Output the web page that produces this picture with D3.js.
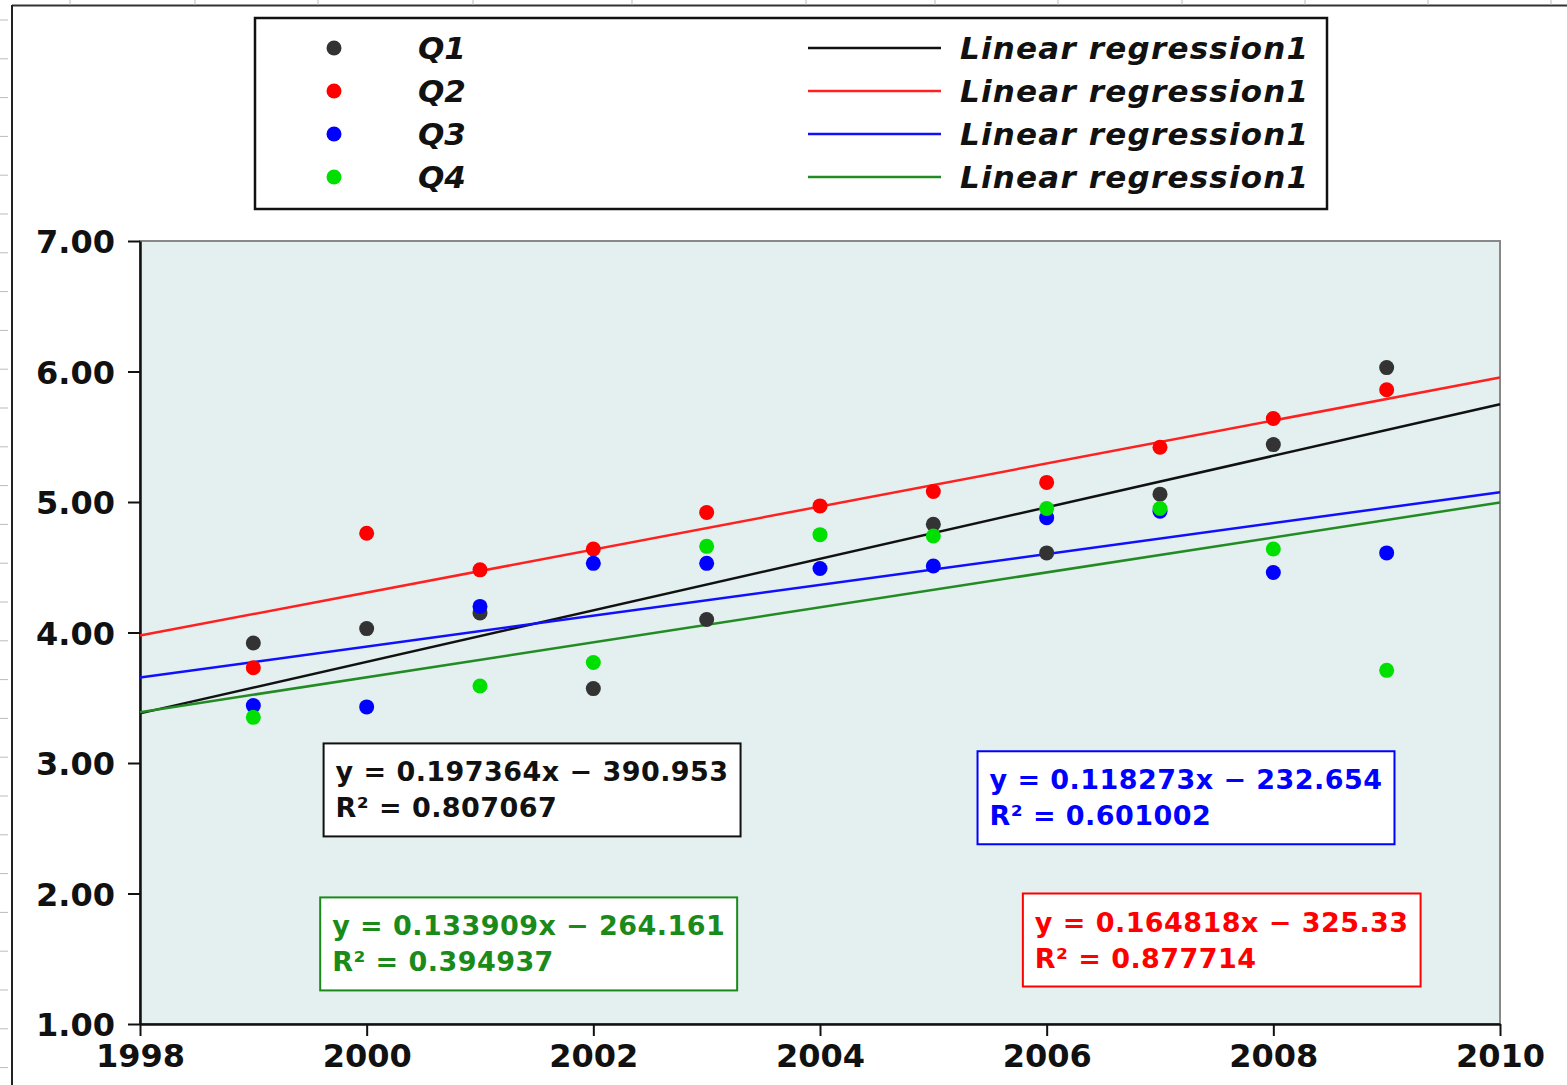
<!DOCTYPE html>
<html>
<head>
<meta charset="utf-8">
<script src="https://d3js.org/d3.v7.min.js"></script>
<style>
  body { margin: 0; background: #fff; }
  text { font-family: "DejaVu Sans", sans-serif; font-weight: bold; }
</style>
</head>
<body>
<div id="chart"></div>
<script>
// Data (null = no point drawn)
const years = [1999, 2000, 2001, 2002, 2003, 2004, 2005, 2006, 2007, 2008, 2009];
const q1 = [3.92, 4.03, 4.15, 3.57, 4.10, null, 4.83, 4.61, 5.06, 5.44, 6.03];
const q2 = [3.73, 4.76, 4.48, 4.64, 4.92, 4.97, 5.08, 5.15, 5.42, 5.64, 5.86];
const q3 = [3.44, 3.43, 4.20, 4.53, 4.53, 4.49, 4.51, 4.88, 4.93, 4.46, 4.61];
const q4 = [3.35, null, 3.59, 3.77, 4.66, 4.75, 4.74, 4.95, 4.95, 4.64, 3.71];

const seriesNames = ["Q1", "Q2", "Q3", "Q4"];
const slopes = [0.197364, 0.164818, 0.118273, 0.133909];
const intercepts = [-390.953, -325.33, -232.654, -264.161];
const r2 = ["0.807067", "0.877714", "0.601002", "0.394937"];

const xTicks = [1998, 2000, 2002, 2004, 2006, 2008, 2010];
const yTicks = [1, 2, 3, 4, 5, 6, 7];

// equation box anchors (top-left corner, in data units)
const boxX = [1999.62, 2005.79, 2005.39, 1999.59];
const boxY = [3.15, 2.00, 3.09, 1.97];

const dotColors = ["#333333", "#ff0000", "#0000ff", "#00e000"];
const lineColors = ["#111111", "#ff2020", "#1010ff", "#238b23"];
const textColors = ["#111111", "#ff0000", "#0000ff", "#1a8a1a"];

const width = 1567, height = 1085;
const margin = {left: 140, right: 67, top: 241, bottom: 61};

const svg = d3.select("#chart").append("svg")
  .attr("width", width)
  .attr("height", height);

// outer window frame of the screenshot
svg.append("line").attr("x1", 12).attr("x2", width).attr("y1", 5.5).attr("y2", 5.5)
  .attr("stroke", "#333").attr("stroke-width", 2);
svg.append("line").attr("x1", 12).attr("x2", 12).attr("y1", 5).attr("y2", height)
  .attr("stroke", "#222").attr("stroke-width", 2);
d3.range(20, height, 38.8).forEach(y => {
  svg.append("line").attr("x1", 0).attr("x2", 8).attr("y1", y).attr("y2", y)
    .attr("stroke", "#bbb").attr("stroke-width", 1);
});
[70, 195, 318, 473, 632, 806, 935, 1058, 1182, 1305, 1428, 1551].forEach(x => {
  svg.append("line").attr("x1", x).attr("x2", x).attr("y1", 0).attr("y2", 5)
    .attr("stroke", "#bbb").attr("stroke-width", 1);
});

const x = d3.scaleLinear().domain([1998, 2010]).range([margin.left, width - margin.right]);
const y = d3.scaleLinear().domain([1, 7]).range([height - margin.bottom, margin.top]);

// plot background
svg.append("rect")
  .attr("x", x(1998)).attr("y", y(7))
  .attr("width", x(2010) - x(1998)).attr("height", y(1) - y(7))
  .attr("fill", "#e3f0ef")
  .attr("stroke", "#888").attr("stroke-width", 2);

// axes
const xAxis = svg.append("g")
  .attr("transform", `translate(0,${y(1)})`)
  .call(d3.axisBottom(x).tickValues(xTicks).tickFormat(d3.format("d")).tickSize(12).tickSizeOuter(0));
const yAxis = svg.append("g")
  .attr("transform", `translate(${x(1998)},0)`)
  .call(d3.axisLeft(y).tickValues(yTicks).tickFormat(d3.format(".2f")).tickSize(12).tickSizeOuter(0));

[xAxis, yAxis].forEach(g => {
  g.select(".domain").attr("stroke", "#111").attr("stroke-width", 2.5);
  g.selectAll(".tick line").attr("stroke", "#111").attr("stroke-width", 2);
  g.selectAll(".tick text").attr("fill", "#111")
    .style("font-size", "32px").style("font-family", "DejaVu Sans").style("font-weight", "bold");
});
xAxis.selectAll(".tick text").attr("dy", "0.9em").attr("y", 14);
yAxis.selectAll(".tick text").attr("x", -25).attr("dy", "0.36em");

// regression lines
slopes.forEach((m, i) => {
  svg.append("line")
    .attr("x1", x(1998)).attr("y1", y(m * 1998 + intercepts[i]))
    .attr("x2", x(2010)).attr("y2", y(m * 2010 + intercepts[i]))
    .attr("stroke", lineColors[i])
    .attr("stroke-width", 2.5);
});

// points
[q1, q2, q3, q4].forEach((vals, i) => {
  svg.append("g").selectAll("circle")
    .data(years.map((yr, j) => ({yr, v: vals[j]})).filter(d => d.v != null))
    .enter().append("circle")
    .attr("cx", d => x(d.yr))
    .attr("cy", d => y(d.v))
    .attr("r", 7.5)
    .attr("fill", dotColors[i]);
});

// equation boxes
const fmtEq = i => `y = ${slopes[i]}x \u2212 ${Math.abs(intercepts[i])}`;
slopes.forEach((m, i) => {
  const g = svg.append("g").attr("transform", `translate(${x(boxX[i])},${y(boxY[i])})`);
  const rect = g.append("rect")
    .attr("fill", "white").attr("stroke", textColors[i]).attr("stroke-width", 2);
  const t1 = g.append("text").attr("x", 12).attr("y", 38)
    .attr("fill", textColors[i]).style("font-size", "27px").style("letter-spacing", "0.45px")
    .text(fmtEq(i));
  g.append("text").attr("x", 12).attr("y", 74)
    .attr("fill", textColors[i]).style("font-size", "27px").style("letter-spacing", "0.45px")
    .text(`R\u00b2 = ${r2[i]}`);
  const w = t1.node().getComputedTextLength();
  rect.attr("width", w + 24).attr("height", 93);
});

// legend
const legend = svg.append("g").attr("transform", "translate(255,18)");
legend.append("rect")
  .attr("width", 1072).attr("height", 191)
  .attr("fill", "white").attr("stroke", "#111").attr("stroke-width", 2.5);
const rows = legend.selectAll("g.row")
  .data(seriesNames)
  .enter().append("g").attr("class", "row")
  .attr("transform", (d, i) => `translate(0,${30 + i * 43})`);
rows.append("circle").attr("cx", 79).attr("cy", 0).attr("r", 7.5)
  .attr("fill", (d, i) => dotColors[i]);
rows.append("text").attr("x", 163).attr("y", 11)
  .style("font-size", "31px").style("font-style", "italic").attr("fill", "#111")
  .text(d => d);
rows.append("line").attr("x1", 553).attr("x2", 686).attr("y1", 0).attr("y2", 0)
  .attr("stroke", (d, i) => lineColors[i]).attr("stroke-width", 2.5);
rows.append("text").attr("x", 705).attr("y", 11)
  .style("font-size", "31px").style("font-style", "italic").style("letter-spacing", "1.2px")
  .attr("fill", "#111")
  .text("Linear regression1");
</script>
</body>
</html>
